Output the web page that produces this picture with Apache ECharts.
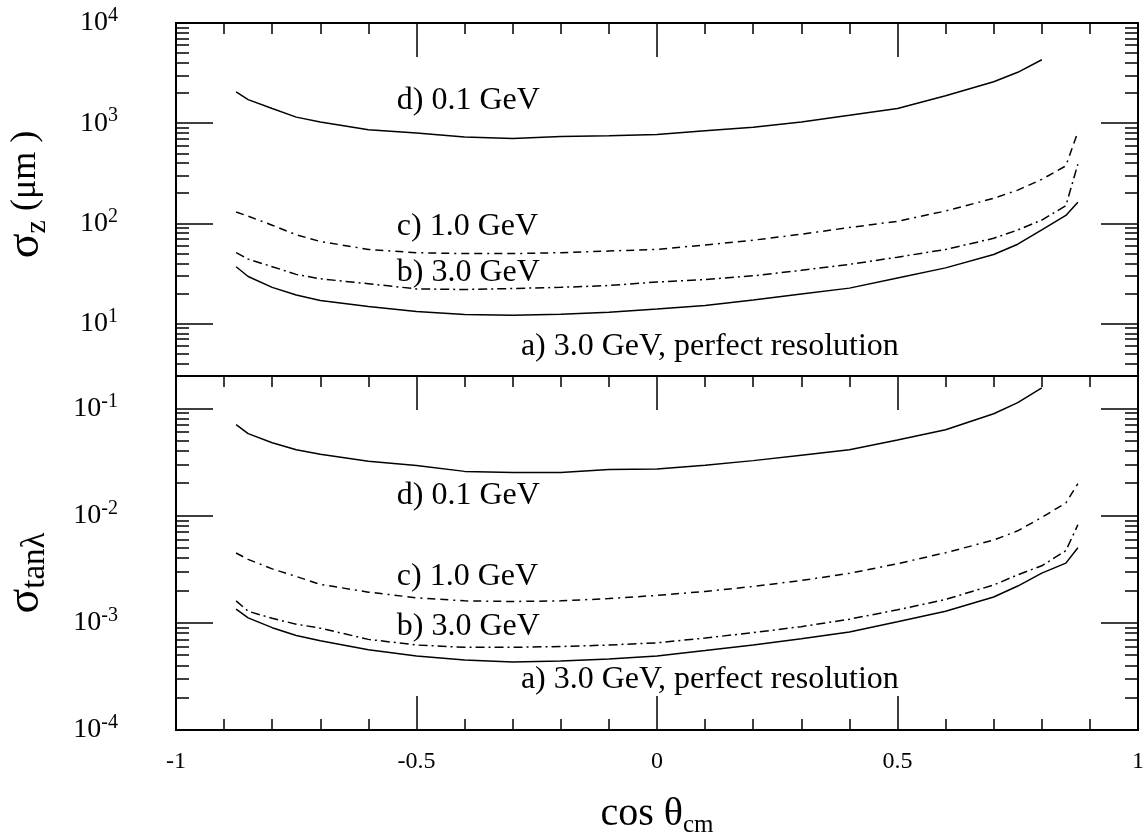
<!DOCTYPE html>
<html>
<head>
<meta charset="utf-8">
<script src="https://cdn.jsdelivr.net/npm/echarts@6/dist/echarts.min.js"></script>
<style>
  html, body { margin: 0; padding: 0; background: #ffffff; }
  #chart { width: 1145px; height: 835px; }
</style>
</head>
<body>
<div id="chart"></div>
<script>
// cos(theta_cm) sample points shared by every curve
const cosTheta = [-0.875, -0.85, -0.8, -0.75, -0.7, -0.6, -0.5, -0.4, -0.3, -0.2, -0.1, 0,
                  0.1, 0.2, 0.3, 0.4, 0.5, 0.6, 0.7, 0.75, 0.8, 0.85, 0.875];

// sigma_z (micrometres)
const sigZ_a = [36.9, 29.5, 23, 19.3, 17, 14.8, 13.2, 12.3, 12.1, 12.4, 13, 14,
                15.2, 17.2, 19.7, 22.6, 28.5, 36, 49, 62, 86, 120, 163];
const sigZ_b = [51, 44, 37, 31, 28, 25, 22.2, 21.9, 22.4, 23, 24, 26,
                27.5, 30, 34, 39, 46, 55, 71, 86, 108, 150, 390];
const sigZ_c = [130, 118, 96, 77, 66, 55, 51, 50, 50, 51, 53, 55,
                61, 68, 78, 91, 105, 133, 178, 215, 275, 375, 819];
const sigZ_d = [2050, 1720, 1400, 1150, 1030, 860, 800, 730, 703, 735, 750, 770,
                840, 910, 1030, 1200, 1400, 1880, 2590, 3220, 4300, null, null];

// sigma_tan(lambda)
const sigT_a = [0.00134, 0.00111, 0.00090, 0.00076, 0.00068, 0.00056, 0.00049, 0.00045, 0.00043, 0.00044, 0.00046, 0.00049,
                0.00055, 0.00062, 0.00071, 0.00082, 0.00102, 0.00128, 0.00174, 0.0022, 0.0029, 0.0036, 0.0050];
const sigT_b = [0.00160, 0.00128, 0.00110, 0.00097, 0.00089, 0.00070, 0.00062, 0.00059, 0.00059, 0.00060, 0.00062, 0.00065,
                0.00072, 0.00081, 0.00092, 0.00108, 0.00132, 0.00165, 0.00225, 0.0028, 0.0034, 0.0047, 0.0082];
const sigT_c = [0.00447, 0.0039, 0.00318, 0.0027, 0.00228, 0.00193, 0.00171, 0.00160, 0.00158, 0.00160, 0.00168, 0.00180,
                0.00196, 0.00218, 0.00248, 0.00289, 0.00355, 0.0045, 0.0059, 0.0072, 0.0096, 0.0131, 0.0198];
const sigT_d = [0.0705, 0.058, 0.0477, 0.041, 0.0372, 0.0320, 0.0293, 0.0258, 0.0252, 0.0252, 0.0268, 0.0272,
                0.0295, 0.0325, 0.0365, 0.0410, 0.0505, 0.0630, 0.089, 0.113, 0.155, null, null];

// curve captions
const curveNames = ['a) 3.0 GeV, perfect resolution', 'b) 3.0 GeV', 'c) 1.0 GeV', 'd) 0.1 GeV'];

// log-axis tick values
const zMajor = [10, 100, 1000, 10000];
const zMinor = [4, 5, 6, 7, 8, 9, 20, 30, 40, 50, 60, 70, 80, 90,
                200, 300, 400, 500, 600, 700, 800, 900, 2000, 3000, 4000, 5000, 6000, 7000, 8000, 9000];
const tMajor = [1e-4, 1e-3, 1e-2, 1e-1];
const tMinor = [2e-4, 3e-4, 4e-4, 5e-4, 6e-4, 7e-4, 8e-4, 9e-4,
                2e-3, 3e-3, 4e-3, 5e-3, 6e-3, 7e-3, 8e-3, 9e-3,
                2e-2, 3e-2, 4e-2, 5e-2, 6e-2, 7e-2, 8e-2, 9e-2];

const SERIF = '"Liberation Serif", "DejaVu Serif", "Times New Roman", serif';
const INK = '#000000';

function pairs(values) {
  const out = [];
  cosTheta.forEach((x, i) => { if (values[i] != null) out.push([x, values[i]]); });
  return out;
}

function xAxisDef(gridIndex, position, showLabels) {
  return {
    type: 'value', gridIndex: gridIndex, position: position,
    min: -1, max: 1, interval: 0.5,
    axisLine: { show: false, onZero: false },
    splitLine: { show: false },
    axisTick: { show: true, inside: true, length: 34, lineStyle: { color: INK, width: 1.5 } },
    minorTick: { show: true, splitNumber: 5, length: 11, lineStyle: { color: INK, width: 1.5 } },
    minorSplitLine: { show: false },
    axisLabel: {
      show: showLabels, margin: 20, color: INK, fontFamily: SERIF, fontSize: 24,
      formatter: v => String(v)
    }
  };
}

function supLabel(v) {
  const e = Math.round(Math.log10(v));
  return '{b|10}{s|' + e + '}';
}

function yAxisDef(gridIndex, min, max, position, tickValues, tickLen, labelValues) {
  const ax = {
    type: 'log', logBase: 10, gridIndex: gridIndex, position: position,
    min: min, max: max,
    axisLine: { show: false, onZero: false },
    splitLine: { show: false },
    minorTick: { show: false },
    axisTick: { show: true, inside: true, length: tickLen, customValues: tickValues,
                lineStyle: { color: INK, width: 1.5 } },
    axisLabel: { show: false }
  };
  if (labelValues) {
    ax.axisLabel = {
      show: true, customValues: labelValues, margin: 58, color: INK,
      formatter: supLabel,
      rich: {
        b: { fontFamily: SERIF, fontSize: 28, lineHeight: 34, color: INK },
        s: { fontFamily: SERIF, fontSize: 20, lineHeight: 20, verticalAlign: 'top', color: INK }
      }
    };
  }
  return ax;
}

function axisTitle(text, subSize, padding) {
  return {
    name: text, nameLocation: 'middle', nameRotate: 90, nameGap: 124,
    nameTextStyle: {
      padding: padding,
      rich: {
        g: { fontFamily: SERIF, fontSize: 46, lineHeight: 52, color: INK },
        t: { fontFamily: SERIF, fontSize: 36, lineHeight: 52, color: INK },
        sub: { fontFamily: SERIF, fontSize: subSize, lineHeight: subSize, verticalAlign: 'bottom', color: INK }
      }
    }
  };
}

const lineSolid = [];
const lineDashDot = [9, 4, 2, 4];
const lineDash = [8, 5, 8, 5, 2, 5];

function curve(name, xi, yi, values, dash) {
  return {
    name: name, type: 'line', xAxisIndex: xi, yAxisIndex: yi,
    data: pairs(values), showSymbol: false, smooth: false, silent: true,
    lineStyle: { color: INK, width: 1.5, type: dash.length ? dash : 'solid' }
  };
}

function captions(xi, yi, anchors) {
  return {
    type: 'scatter', xAxisIndex: xi, yAxisIndex: yi, silent: true,
    symbolSize: 0,
    itemStyle: { opacity: 1 },
    data: anchors.map((p, i) => ({ value: p, name: curveNames[i] })),
    label: {
      show: true, position: 'right', distance: 0, formatter: '{b}', opacity: 1,
      fontFamily: SERIF, fontSize: 32, color: INK, align: 'left', verticalAlign: 'middle'
    }
  };
}

const chart = echarts.init(document.getElementById('chart'), null, { renderer: 'canvas' });

const gridBase = { left: 176, width: 962, show: true, borderColor: INK, borderWidth: 2,
                   backgroundColor: 'transparent', containLabel: false, outerBoundsMode: 'none' };

const option = {
  animation: false,
  backgroundColor: '#ffffff',
  grid: [
    Object.assign({ top: 23, height: 353 }, gridBase),
    Object.assign({ top: 376, height: 354 }, gridBase)
  ],
  xAxis: [
    xAxisDef(0, 'top', false),
    Object.assign(xAxisDef(1, 'bottom', true), {
      name: '{t|cos θ}{sub|cm}', nameLocation: 'middle', nameGap: 60,
      nameTextStyle: {
        rich: {
          t: { fontFamily: SERIF, fontSize: 40, lineHeight: 48, color: INK },
          sub: { fontFamily: SERIF, fontSize: 25, lineHeight: 25, verticalAlign: 'bottom', color: INK }
        }
      }
    }),
    xAxisDef(1, 'top', false)
  ],
  yAxis: [
    Object.assign(yAxisDef(0, 3, 10000, 'left', zMajor, 37, zMajor),
                  axisTitle('{g|σ}{sub|z}{t| (μm )}', 30, [0, 0, 0, 10])),
    yAxisDef(0, 3, 10000, 'left', zMinor, 13),
    yAxisDef(0, 3, 10000, 'right', zMajor, 37),
    yAxisDef(0, 3, 10000, 'right', zMinor, 13),
    Object.assign(yAxisDef(1, 1e-4, 0.2, 'left', tMajor, 37, tMajor),
                  axisTitle('{g|σ}{sub|tanλ}', 33, [0, 40, 0, 0])),
    yAxisDef(1, 1e-4, 0.2, 'left', tMinor, 13),
    yAxisDef(1, 1e-4, 0.2, 'right', tMajor, 37),
    yAxisDef(1, 1e-4, 0.2, 'right', tMinor, 13)
  ],
  series: [
    curve('a', 0, 0, sigZ_a, lineSolid),
    curve('b', 0, 0, sigZ_b, lineDashDot),
    curve('c', 0, 0, sigZ_c, lineDash),
    curve('d', 0, 0, sigZ_d, lineSolid),
    curve('a', 1, 4, sigT_a, lineSolid),
    curve('b', 1, 4, sigT_b, lineDashDot),
    curve('c', 1, 4, sigT_c, lineDash),
    curve('d', 1, 4, sigT_d, lineSolid),
    captions(0, 0, [[-0.283, 5.84], [-0.541, 32.2], [-0.541, 93], [-0.541, 1700]]),
    captions(1, 4, [[-0.283, 0.000292], [-0.541, 0.00093], [-0.541, 0.00268], [-0.541, 0.01528]])
  ]
};

chart.setOption(option);
</script>
</body>
</html>
